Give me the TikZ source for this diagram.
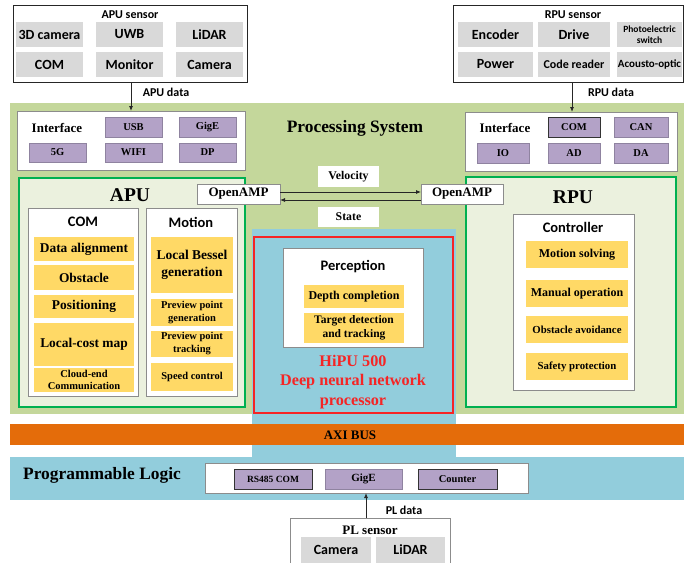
\documentclass[tikz,border=0pt]{standalone}
\usepackage{fontspec}
\setmainfont{Liberation Serif}
\newfontfamily\calib{Carlito}
\usetikzlibrary{arrows.meta}
\definecolor{bgG}{HTML}{C4D79B}
\definecolor{apuF}{HTML}{EBF1DE}
\definecolor{grnB}{HTML}{00B050}
\definecolor{purp}{HTML}{B3A2C7}
\definecolor{purpB}{HTML}{8F83A0}
\definecolor{yel}{HTML}{FFD966}
\definecolor{grayc}{HTML}{D9D9D9}
\definecolor{bluec}{HTML}{92CDDC}
\definecolor{orng}{HTML}{E46C0A}
\definecolor{redc}{HTML}{F52525}
\definecolor{bordG}{HTML}{8C8C8C}
\newcommand\fsz[1]{\fontsize{#1}{#1}\selectfont}
\newcommand\fszb[2]{\fontsize{#1}{#2}\selectfont}
\newcommand\bx[7]{%
 \pgfmathsetmacro\bxw{#5-#3}\pgfmathsetmacro\bxh{#6-#4}%
 \pgfmathsetmacro\bxx{(#3+#5)/2}\pgfmathsetmacro\bxy{(#4+#6)/2}%
 \node[#1,minimum width=\bxw pt,minimum height=\bxh pt] (#2) at (\bxx,\bxy) {#7};}
\tikzset{
 every node/.style={inner sep=1pt,outer sep=0pt,align=center},
 sbox/.style={draw=black!85,line width=0.8pt,fill=white},
 wbox/.style={draw=bordG,line width=0.9pt,fill=white},
 grbox/.style={draw=grnB,line width=1.8pt,fill=apuF},
 gcell/.style={fill=grayc,font=\calib\bfseries\fsz{14}},
 pcell/.style={fill=purp,draw=purpB,line width=0.6pt,font=\bfseries\fsz{10.5}},
 pcelld/.style={fill=purp,draw=black!80,line width=1pt,font=\bfseries\fsz{10.5}},
 ycell/.style={fill=yel},
 stitle/.style={font=\calib\bfseries\fsz{14.5}},
 arr/.style={-{Latex[length=5pt,width=4pt]},line width=0.8pt,black!85},
}
\begin{document}
\begin{tikzpicture}[x=1pt,y=-1pt]
\useasboundingbox (0,0) rectangle (684,562);
% backgrounds
\fill[bgG] (10,103) rectangle (684,414);
\fill[bluec] (252,229) rectangle (456,457);
\fill[bluec] (10,457) rectangle (684,500);
\fill[orng] (10,424) rectangle (684,445);
\node[font=\bfseries\fsz{13}] (axi) at (350,435) {AXI BUS};
% APU sensor
\bx{sbox}{apus}{13}{5}{247}{82}{}
\node[font=\calib\bfseries\fsz{12}] (apust) at (130,15) {APU sensor};
\bx{gcell}{s1}{16}{22}{83}{47}{3D camera}
\bx{gcell}{s2}{96}{22}{163}{47}{UWB}
\bx{gcell}{s3}{176}{22}{243}{47}{LiDAR}
\bx{gcell}{s4}{16}{52}{83}{77}{COM}
\bx{gcell}{s5}{96}{52}{163}{77}{Monitor}
\bx{gcell}{s6}{176}{52}{243}{77}{Camera}
% RPU sensor
\bx{sbox}{rpus}{453}{5}{683.5}{82}{}
\node[font=\calib\bfseries\fsz{12}] (rpust) at (573,15) {RPU sensor};
\bx{gcell}{r1}{458}{22}{533}{47}{Encoder}
\bx{gcell}{r2}{538}{22}{610}{47}{Drive}
\bx{gcell,font=\calib\bfseries\fszb{9.5}{10.5}}{r3}{617}{22}{682}{47}{Photoelectric\\switch}
\bx{gcell}{r4}{458}{52}{533}{77}{Power}
\bx{gcell,font=\calib\bfseries\fsz{12}}{r5}{538}{52}{610}{77}{Code reader}
\bx{gcell,font=\calib\bfseries\fsz{11}}{r6}{617}{52}{682}{77}{Acousto-optic}
% Processing system title
\node[font=\bfseries\fsz{17.4}] (ps) at (355,128) {Processing System};
% Interfaces
\bx{wbox}{ifL}{17}{111}{245}{170}{}
\node[font=\bfseries\fsz{13}] (ifLt) at (57,128) {Interface};
\bx{pcell}{usb}{105}{117}{162}{137}{USB}
\bx{pcell}{gige}{179}{117}{236}{137}{GigE}
\bx{pcell}{g5}{29}{143}{86}{162}{5G}
\bx{pcell}{wifi}{105}{143}{162}{162}{WIFI}
\bx{pcell}{dp}{179}{143}{236}{162}{DP}
\bx{wbox}{ifR}{465}{112}{677}{171}{}
\node[font=\bfseries\fsz{13}] (ifRt) at (505,128) {Interface};
\bx{pcelld}{rcom}{548}{117}{600}{137}{COM}
\bx{pcell}{can}{614}{117}{668}{137}{CAN}
\bx{pcell}{io}{477}{143}{529}{163}{IO}
\bx{pcell}{ad}{548}{143}{600}{163}{AD}
\bx{pcell}{da}{614}{143}{668}{163}{DA}
% sensor arrows
\coordinate (xa) at (131,0);
\coordinate (xr) at (572,0);
\draw[arr] (apus.south -| xa) -- (ifL.north -| xa);
\draw[arr] (rpus.south -| xr) -- (ifR.north -| xr);
\node[font=\calib\bfseries\fsz{12}] (apud) at (166,92) {APU data};
\node[font=\calib\bfseries\fsz{12}] (rpud) at (611,92) {RPU data};
% APU / RPU
\bx{grbox}{apu}{19}{178}{245}{407}{}
\node[font=\bfseries\fsz{19.5}] (aput) at (130,195) {APU};
\bx{grbox}{rpu}{466}{177}{676}{407}{}
\node[font=\bfseries\fsz{19.5}] (rput) at (573,197) {RPU};
% OpenAMP
\bx{wbox,font=\bfseries\fsz{13}}{oL}{197}{184}{280}{204}{OpenAMP}
\bx{wbox,font=\bfseries\fsz{13}}{oR}{421}{184}{503}{204}{OpenAMP}
\bx{fill=white,font=\bfseries\fsz{11.8}}{vel}{318}{166}{379}{187}{Velocity}
\bx{fill=white,font=\bfseries\fsz{11.8}}{st}{318}{207}{379}{227}{State}
\coordinate (ya) at (0,192);
\coordinate (yb) at (0,200);
\draw[arr] (oL.east |- ya) -- (oR.west |- ya);
\draw[arr] (oR.west |- yb) -- (oL.east |- yb);
% COM
\bx{wbox}{comb}{28}{208}{138}{396}{}
\node[stitle] (comt) at (83,222) {COM};
\bx{ycell,font=\bfseries\fsz{13.4}}{c1}{34}{237}{134}{261}{Data alignment}
\bx{ycell,font=\bfseries\fsz{13.4}}{c2}{34}{265}{134}{290}{Obstacle}
\bx{ycell,font=\bfseries\fsz{13.4}}{c3}{34}{295}{134}{318}{Positioning}
\bx{ycell,font=\bfseries\fsz{13.4}}{c4}{34}{323}{134}{366}{Local-cost map}
\bx{ycell,font=\bfseries\fszb{10.5}{12}}{c5}{34}{368}{134}{392}{Cloud-end\\Communication}
% Motion
\bx{wbox}{motb}{146}{208}{237}{396}{}
\node[stitle] (mott) at (191,222) {Motion};
\bx{ycell,font=\bfseries\fszb{13.5}{17}}{m1}{151}{237}{233}{293}{Local Bessel\\generation}
\bx{ycell,font=\bfseries\fszb{10.5}{13}}{m2}{151}{299}{233}{326}{Preview point\\generation}
\bx{ycell,font=\bfseries\fszb{10.5}{13}}{m3}{151}{331}{233}{357}{Preview point\\tracking}
\bx{ycell,font=\bfseries\fsz{10.5}}{m4}{151}{363}{233}{391}{Speed control}
% Controller
\bx{wbox}{ctb}{513}{214}{634}{390}{}
\node[stitle] (ctt) at (573,227) {Controller};
\bx{ycell,font=\bfseries\fsz{12}}{k1}{526}{241}{628}{268}{Motion solving}
\bx{ycell,font=\bfseries\fsz{12}}{k2}{526}{280}{628}{307}{Manual operation}
\bx{ycell,font=\bfseries\fsz{10.8}}{k3}{526}{316}{628}{343}{Obstacle avoidance}
\bx{ycell,font=\bfseries\fsz{10.8}}{k4}{526}{353}{628}{380}{Safety protection}
% HiPU
\bx{draw=redc,line width=2pt}{hipu}{254}{237}{453}{413}{}
\bx{wbox}{perb}{283}{248}{423}{347}{}
\node[stitle] (pert) at (353,267) {Perception};
\bx{ycell,font=\bfseries\fsz{12}}{p1}{304}{285}{404}{308}{Depth completion}
\bx{ycell,font=\bfseries\fszb{11.5}{14}}{p2}{304}{313}{404}{343}{Target detection\\and tracking}
\node[font=\bfseries\fszb{16.2}{19.5},text=redc] (hipt) at (353,382) {HiPU 500\\Deep neural network\\processor};
% Programmable logic
\node[font=\bfseries\fsz{17.4}] (plt) at (102,475) {Programmable Logic};
\bx{wbox}{plb}{205}{463}{528}{493}{}
\bx{pcelld,font=\bfseries\fsz{9.5}}{rs}{234}{469}{312}{489}{RS485 COM}
\bx{pcell,font=\bfseries\fsz{11}}{plg}{325}{469}{402}{489}{GigE}
\bx{pcelld,font=\bfseries\fsz{10.5}}{cnt}{418}{469}{497}{489}{Counter}
\bx{wbox}{pls}{290}{518}{450}{566}{}
\node[font=\bfseries\fsz{13}] (plst) at (370,530) {PL sensor};
\bx{gcell}{pc1}{301}{537}{371}{563}{Camera}
\bx{gcell}{pc2}{376}{537}{445}{563}{LiDAR}
\coordinate (xp) at (366,0);
\draw[arr] (pls.north -| xp) -- (plb.south -| xp);
\node[font=\calib\bfseries\fsz{12}] (pld) at (404,510) {PL data};
\end{tikzpicture}
\end{document}
